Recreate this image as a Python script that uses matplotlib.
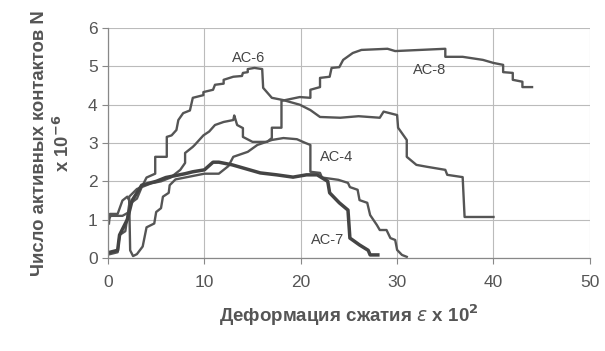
import matplotlib
matplotlib.use("Agg")
import matplotlib.pyplot as plt

plt.rcParams['font.family'] = ['Liberation Sans', 'DejaVu Sans']

# AC-4
ac4_x = [0.1, 0.2, 1.0, 1.5, 2.0, 2.2, 2.3, 2.6, 3.0, 3.6, 4.0, 4.8, 5.0, 5.5, 5.7, 6.3, 6.4, 7.0, 8.0,
         10.0, 11.5, 12.5, 13.0, 14.5, 15.5, 17.0, 18.2, 19.6, 20.5, 21.0, 21.0, 22.0, 22.2, 23.9, 24.9,
         25.1, 25.9, 26.1, 26.9, 27.2, 27.9, 28.2, 28.9, 29.3, 29.8, 30.0, 30.5, 31.0]
ac4_y = [0.9, 1.15, 1.15, 1.5, 1.6, 1.5, 0.2, 0.05, 0.1, 0.3, 0.8, 0.9, 1.2, 1.3, 1.6, 1.7, 1.9, 2.05, 2.1,
         2.2, 2.2, 2.4, 2.64, 2.77, 2.95, 3.08, 3.13, 3.1, 3.0, 2.95, 2.25, 2.22, 2.1, 2.04, 1.96,
         1.85, 1.78, 1.51, 1.44, 1.12, 0.86, 0.73, 0.73, 0.52, 0.47, 0.21, 0.08, 0.03]

# AC-6
ac6_x = [0.0, 0.3, 1.5, 2.2, 2.2, 3.0, 3.5, 4.0, 4.9, 4.9, 6.1, 6.1, 6.6, 7.1, 7.3, 7.8, 8.5, 8.8, 9.9,
         9.9, 10.9, 11.1, 12.0, 12.0, 13.0, 13.9, 14.0, 14.5, 14.5, 15.2, 16.0, 16.1, 17.0, 18.2, 18.9,
         19.9, 21.0, 22.0, 24.1, 26.0, 28.2, 28.6, 30.0, 30.1, 31.0, 31.0, 32.0, 33.1, 35.0, 35.2, 36.8,
         37.0, 40.0]
ac6_y = [1.0, 1.1, 1.1, 1.2, 1.6, 1.8, 1.85, 2.1, 2.2, 2.64, 2.64, 3.16, 3.2, 3.34, 3.6, 3.78, 3.85, 4.18, 4.25,
         4.33, 4.39, 4.52, 4.55, 4.65, 4.73, 4.75, 4.83, 4.85, 4.93, 4.96, 4.93, 4.44, 4.18, 4.12, 4.07,
         4.0, 3.86, 3.68, 3.66, 3.7, 3.66, 3.82, 3.73, 3.4, 3.08, 2.64, 2.43, 2.38, 2.3, 2.17, 2.11,
         1.07, 1.07]

# AC-7
ac7_x = [0.2, 1.0, 1.2, 2.0, 2.5, 3.5, 5.0, 6.0, 8.0, 8.8, 10.0, 10.9, 11.5, 12.9, 14.0, 15.8, 17.5, 19.2,
         20.6, 21.7, 22.8, 23.0, 24.0, 24.9, 25.1, 26.1, 27.0, 27.2, 28.0]
ac7_y = [0.15, 0.2, 0.6, 1.0, 1.5, 1.9, 2.0, 2.1, 2.2, 2.25, 2.3, 2.5, 2.5, 2.43, 2.35, 2.22, 2.17, 2.11,
         2.17, 2.17, 2.0, 1.7, 1.44, 1.25, 0.52, 0.34, 0.2, 0.08, 0.08]

# AC-8
ac8_x = [0.2, 1.0, 1.2, 1.8, 2.2, 3.0, 3.5, 4.5, 5.5, 6.5, 7.5, 8.0, 8.0, 8.8, 9.0, 9.9, 10.5, 11.1, 12.0,
         13.0, 13.1, 13.4, 14.0, 14.0, 15.0, 16.5, 17.0, 17.0, 18.0, 18.0, 19.9, 21.0, 21.0, 22.0, 22.0,
         23.0, 23.2, 24.0, 24.4, 25.4, 26.3, 29.0, 29.8, 35.0, 35.0, 36.8, 38.9, 40.0, 41.0, 41.0, 42.0,
         42.0, 43.0, 43.0, 44.0]
ac8_y = [0.1, 0.15, 0.6, 0.7, 1.4, 1.55, 1.85, 1.95, 2.0, 2.1, 2.3, 2.48, 2.74, 2.9, 2.95, 3.2, 3.3, 3.47, 3.55,
         3.6, 3.72, 3.47, 3.39, 3.16, 3.03, 3.03, 3.13, 3.4, 3.4, 4.1, 4.2, 4.18, 4.39, 4.46, 4.7,
         4.73, 4.96, 4.98, 5.17, 5.35, 5.43, 5.46, 5.4, 5.46, 5.25, 5.25, 5.17, 5.09, 5.04, 4.85, 4.83,
         4.65, 4.6, 4.46, 4.46]

labels = ["AC-6", "AC-8", "AC-4", "AC-7"]
label_x = [14.6, 33.4, 23.7, 22.8]
label_y = [5.22, 4.9, 2.64, 0.47]

x_ticks = [0, 10, 20, 30, 40, 50]
y_ticks = [0, 1, 2, 3, 4, 5, 6]

fig = plt.figure(figsize=(6.05, 3.51), dpi=100)
ax = fig.add_axes([0.1785, 0.265, 0.7965, 0.655])

line_col = '#555555'
ax.plot(ac4_x, ac4_y, color=line_col, lw=1.7)
ax.plot(ac6_x, ac6_y, color=line_col, lw=1.7)
ax.plot(ac8_x, ac8_y, color=line_col, lw=1.7)
ax.plot(ac7_x, ac7_y, color='#444444', lw=2.5)

for t, xx, yy in zip(labels, label_x, label_y):
    ax.text(xx, yy, t, fontsize=10.5, color='#444444', ha='center', va='center')

ax.set_xlim(0, 50)
ax.set_ylim(0, 6)
ax.set_xticks(x_ticks)
ax.set_yticks(y_ticks)
ax.grid(True, color='#bbbbbb', lw=0.8)
ax.set_axisbelow(True)
for s in ['top', 'right']:
    ax.spines[s].set_visible(False)
for s in ['left', 'bottom']:
    ax.spines[s].set_color('#888888')
    ax.spines[s].set_linewidth(0.9)
ax.tick_params(axis='both', colors='#888888', length=4, width=0.8, labelsize=12.5,
               labelcolor='#555555', direction='out')
ax.tick_params(axis='x', pad=8)

ax.set_xlabel('Деформация сжатия $\\varepsilon$ x 10$^{\\mathbf{2}}$', fontsize=13.5,
              fontweight='bold', color='#555555', labelpad=9)
ax.set_ylabel('Число активных контактов N\nx 10$^{\\mathbf{-6}}$', fontsize=13.3,
              fontweight='bold', color='#555555', labelpad=11, linespacing=1.25)

fig.savefig('out.png', dpi=100)
